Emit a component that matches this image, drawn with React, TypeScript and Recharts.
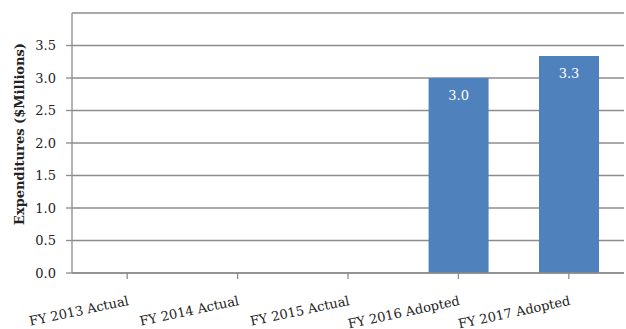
import { BarChart, Bar, XAxis, YAxis, CartesianGrid, LabelList } from "recharts";

const categories = [
  "FY 2013 Actual",
  "FY 2014 Actual",
  "FY 2015 Actual",
  "FY 2016 Adopted",
  "FY 2017 Adopted",
];
const expenditures: (number | null)[] = [null, null, null, 3.0, 3.34];
const yTicks = [0, 0.5, 1, 1.5, 2, 2.5, 3, 3.5];

const data = categories.map((name, i) => ({ name, value: expenditures[i] }));

const FONT = "'DejaVu Serif', 'Liberation Serif', serif";

function CategoryTick({ x, y, payload }: any) {
  return (
    <g transform={`translate(${x},${y + 14})`}>
      <text
        x={0}
        y={0}
        dy={10}
        textAnchor="end"
        transform="rotate(-12)"
        fill="#222"
        fontSize={13}
        fontFamily={FONT}
      >
        {payload.value}
      </text>
    </g>
  );
}

function AxisTitle() {
  return (
    <text
      x={19}
      y={134}
      transform="rotate(-90, 19, 134)"
      textAnchor="middle"
      dominantBaseline="central"
      fontWeight="bold"
      fontSize={13}
      fontFamily={FONT}
      fill="#222"
    >
      Expenditures ($Millions)
    </text>
  );
}

export default function App() {
  return (
    <div style={{ position: "absolute", left: 0, top: 0, background: "#fff" }}>
      <BarChart
        width={626}
        height={329}
        data={data}
        margin={{ top: 13, right: 2, left: 0, bottom: 0 }}
        barCategoryGap="23%"
      >
        <CartesianGrid vertical={false} stroke="#8c8c8c" strokeWidth={1.3} />
        <XAxis
          dataKey="name"
          height={56}
          stroke="#8c8c8c"
          strokeWidth={1.3}
          tickSize={6}
          tick={<CategoryTick />}
          interval={0}
        />
        <YAxis
          domain={[0, 4]}
          ticks={yTicks}
          width={72}
          stroke="#8c8c8c"
          strokeWidth={1.3}
          tickSize={6}
          tickMargin={10}
          tickFormatter={(v: number) => v.toFixed(1)}
          tick={{ fill: "#222", fontSize: 13, fontFamily: FONT }}
          label={<AxisTitle />}
        />
        <Bar dataKey="value" fill="#4f81bd" isAnimationActive={false}>
          <LabelList
            dataKey="value"
            position="insideTop"
            offset={13}
            formatter={(v: any) => (v == null ? "" : Number(v).toFixed(1))}
            style={{ fill: "#fff", fontSize: 13, fontFamily: FONT }}
          />
        </Bar>
      </BarChart>
    </div>
  );
}
